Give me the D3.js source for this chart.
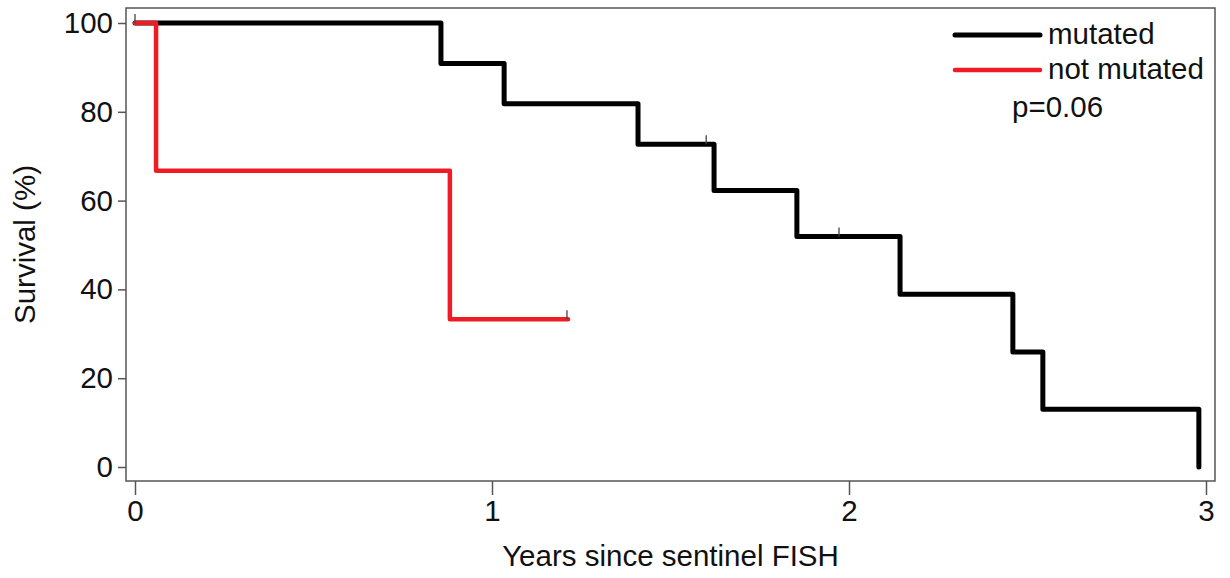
<!DOCTYPE html>
<html><head><meta charset="utf-8">
<script src="https://cdn.jsdelivr.net/npm/d3@7"></script>
<style>body{margin:0;background:#fff}svg{display:block}text{font-family:"Liberation Sans",Arial,sans-serif;fill:#111}</style>
</head><body><svg id="c" width="1230" height="578"></svg>
<script>
// Data (time in years, survival %)
const mutatedTimes = [0, 0.857, 1.034, 1.409, 1.622, 1.854, 2.143, 2.459, 2.543, 2.98];
const mutatedSurv  = [100, 90.9, 81.8, 72.7, 62.3, 51.9, 38.9, 25.9, 13.0, 0];
const mutatedEnd = 2.98;
const mutatedCensor = [1.60, 1.972];
const notMutatedTimes = [0, 0.059, 0.882];
const notMutatedSurv  = [100, 66.7, 33.3];
const notMutatedEnd = 1.213;
const notMutatedCensor = [0, 1.21];
const xTicks = [0, 1, 2, 3];
const yTicks = [0, 20, 40, 60, 80, 100];
const legendLabels = ["mutated", "not mutated"];
const pValueText = "p=0.06";

const svg = d3.select("#c");
const frame = {l:126, r:1215, t:8, b:481};
const x = d3.scaleLinear().domain([0,3]).range([135,1206]);
const y = d3.scaleLinear().domain([0,100]).range([467,23]);

// frame
svg.append("rect").attr("x",frame.l).attr("y",frame.t).attr("width",frame.r-frame.l).attr("height",frame.b-frame.t)
  .attr("fill","none").attr("stroke","#555").attr("stroke-width",1.5);

const fs = 29.5;
const xAxis = svg.append("g").attr("transform",`translate(0,${frame.b})`)
  .call(d3.axisBottom(x).tickValues(xTicks).tickFormat(d3.format("d")).tickSize(14).tickPadding(5));
const yAxis = svg.append("g").attr("transform",`translate(${frame.l},0)`)
  .call(d3.axisLeft(y).tickValues(yTicks).tickFormat(d3.format("d")).tickSize(8).tickPadding(5));
[xAxis,yAxis].forEach(g=>{
  g.select(".domain").remove();
  g.selectAll(".tick line").attr("stroke","#555").attr("stroke-width",1.5);
  g.selectAll(".tick text").attr("font-size",fs).attr("font-family","Liberation Sans, Arial, sans-serif").attr("fill","#111");
});

function stepPath(times, surv, end){
  const pts=[];
  for(let i=0;i<times.length;i++){
    if(i>0) pts.push([times[i], surv[i-1]]);
    pts.push([times[i], surv[i]]);
  }
  pts.push([end, surv[surv.length-1]]);
  return d3.line().x(d=>x(d[0])).y(d=>y(d[1]))(pts);
}
function survAt(times,surv,t){let s=surv[0];for(let i=0;i<times.length;i++){if(times[i]<=t)s=surv[i];}return s;}

svg.append("path").attr("d",stepPath(mutatedTimes,mutatedSurv,mutatedEnd))
  .attr("fill","none").attr("stroke","#000").attr("stroke-width",5).attr("stroke-linejoin","round").attr("stroke-linecap","round");
svg.append("path").attr("d",stepPath(notMutatedTimes,notMutatedSurv,notMutatedEnd))
  .attr("fill","none").attr("stroke","#ee1c25").attr("stroke-width",4.5).attr("stroke-linejoin","round").attr("stroke-linecap","round");

// censor marks
function censors(arr,times,surv){
  arr.forEach(t=>{
    const s=survAt(times,surv,t);
    svg.append("line").attr("x1",x(t)).attr("x2",x(t)).attr("y1",y(s)-9).attr("y2",y(s))
      .attr("stroke","#444").attr("stroke-width",1.3);
  });
}
censors(mutatedCensor,mutatedTimes,mutatedSurv);
censors(notMutatedCensor,notMutatedTimes,notMutatedSurv);

// legend
const leg = [{c:"#000",w:5,y:35},{c:"#ee1c25",w:4.5,y:70}];
leg.forEach((d,i)=>{
  svg.append("line").attr("x1",955).attr("x2",1040).attr("y1",d.y).attr("y2",d.y)
    .attr("stroke",d.c).attr("stroke-width",d.w).attr("stroke-linecap","round");
  svg.append("text").attr("x",1048).attr("y",d.y+9).attr("font-size",fs).text(legendLabels[i]);
});
svg.append("text").attr("x",1012).attr("y",117).attr("font-size",fs).text(pValueText);

// titles
svg.append("text").attr("x",(x(0)+x(3))/2).attr("y",566).attr("text-anchor","middle").attr("font-size",fs).text("Years since sentinel FISH");
svg.append("text").attr("transform",`translate(35,${(frame.t+frame.b)/2}) rotate(-90)`).attr("text-anchor","middle").attr("font-size",fs).text("Survival (%)");
</script></body></html>
